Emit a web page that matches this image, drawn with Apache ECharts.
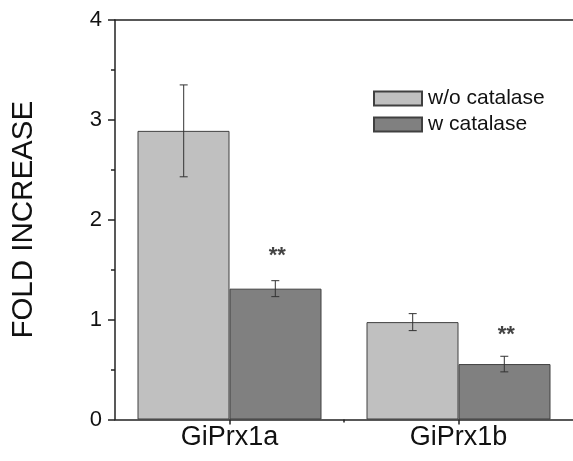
<!DOCTYPE html>
<html>
<head>
<meta charset="utf-8">
<script src="https://cdn.jsdelivr.net/npm/echarts@6/dist/echarts.min.js"></script>
<style>
html, body { margin: 0; padding: 0; background: #fff; }
#main { width: 573px; height: 461px; }
</style>
</head>
<body>
<div id="main"></div>
<script>
// data
var categories = ['GiPrx1a', 'GiPrx1b'];
var catPos = [1, 2];
var seriesNames = ['w/o catalase', 'w catalase'];
var withoutVal = [2.89, 0.975];
var withoutErr = [0.46, 0.085];
var withVal = [1.31, 0.555];
var withErr = [0.08, 0.078];
var starY = [1.66, 0.865];
var starText = ['**', '**'];

var font = 'Liberation Sans, Arial, sans-serif';
var barOff = 0.2; // half bar width in x units

var chartDom = document.getElementById('main');
var myChart = echarts.init(chartDom);

function toBar(vals) {
  return vals.map(function (v, i) { return [catPos[i], v]; });
}
function toErr(vals, errs, off) {
  return vals.map(function (v, i) { return [catPos[i] + off, v - errs[i], v + errs[i]]; });
}

var errRender = function (params, api) {
  var lo = api.coord([api.value(0), api.value(1)]);
  var hi = api.coord([api.value(0), api.value(2)]);
  var w = 4;
  var st = { stroke: '#333', lineWidth: 1 };
  return {
    type: 'group',
    children: [
      { type: 'line', shape: { x1: hi[0], y1: hi[1], x2: lo[0], y2: lo[1] }, style: st },
      { type: 'line', shape: { x1: hi[0] - w, y1: hi[1], x2: hi[0] + w, y2: hi[1] }, style: st },
      { type: 'line', shape: { x1: lo[0] - w, y1: lo[1], x2: lo[0] + w, y2: lo[1] }, style: st }
    ]
  };
};

var axisColor = '#222';

var option = {
  animation: false,
  textStyle: { fontFamily: font },
  grid: { left: 115, top: 20, width: 462, bottom: 41.5 },
  legend: {
    data: seriesNames,
    orient: 'vertical',
    left: 368, top: 83,
    itemWidth: 48, itemHeight: 14, itemGap: 5,
    icon: 'rect',
    textStyle: { fontSize: 21, color: '#111', fontFamily: font, padding: [0, 0, 0, 1] }
  },
  xAxis: [
    {
      type: 'value', min: 0.5, max: 2.5, position: 'bottom',
      axisLine: { lineStyle: { color: axisColor, width: 1.5 } },
      axisTick: { customValues: catPos, length: 5, lineStyle: { color: axisColor, width: 1.5 } },
      axisLabel: {
        customValues: catPos, margin: 5, fontSize: 27, color: '#111', fontFamily: font,
        formatter: function (v) { return categories[catPos.indexOf(v)]; }
      },
      splitLine: { show: false }
    },
    {
      type: 'value', min: 0.5, max: 2.5, position: 'bottom',
      axisLine: { show: false },
      axisTick: { customValues: [1.5], length: 3, lineStyle: { color: axisColor, width: 1.5 } },
      axisLabel: { show: false },
      splitLine: { show: false }
    },
    {
      // top frame line
      type: 'value', min: 0.5, max: 2.5, position: 'top',
      axisLine: { show: true, lineStyle: { color: axisColor, width: 1.5 } },
      axisTick: { show: false },
      axisLabel: { show: false },
      splitLine: { show: false }
    }
  ],
  yAxis: {
    type: 'value', min: 0, max: 4, interval: 1,
    name: 'FOLD INCREASE', nameLocation: 'middle', nameGap: 76,
    nameTextStyle: { fontSize: 29.5, color: '#111', fontFamily: font },
    axisLine: { show: true, lineStyle: { color: axisColor, width: 1.5 } },
    axisTick: { show: true, length: 7, lineStyle: { color: axisColor, width: 1.5 } },
    minorTick: { show: true, splitNumber: 2, length: 4, lineStyle: { color: axisColor, width: 1.5 } },
    axisLabel: { margin: 13, fontSize: 22, color: '#111', fontFamily: font },
    splitLine: { show: false }
  },
  series: [
    {
      name: seriesNames[0], type: 'bar', data: toBar(withoutVal),
      barWidth: 92, barGap: '0%',
      itemStyle: { color: '#c0c0c0', borderColor: '#404040', borderWidth: 1 }
    },
    {
      name: seriesNames[1], type: 'bar', data: toBar(withVal),
      barWidth: 92, barGap: '0%',
      itemStyle: { color: '#808080', borderColor: '#404040', borderWidth: 1 }
    },
    { type: 'custom', renderItem: errRender, data: toErr(withoutVal, withoutErr, -barOff), z: 5 },
    { type: 'custom', renderItem: errRender, data: toErr(withVal, withErr, barOff), z: 5 },
    {
      type: 'scatter', symbolSize: 0, z: 6,
      data: starY.map(function (y, i) { return [catPos[i] + barOff, y]; }),
      label: {
        show: true, position: 'inside', fontSize: 22, fontWeight: 'bold', color: '#111', fontFamily: font,
        offset: [2, 2],
        formatter: function (p) { return starText[p.dataIndex]; }
      }
    }
  ]
};

option && myChart.setOption(option);
</script>
</body>
</html>
